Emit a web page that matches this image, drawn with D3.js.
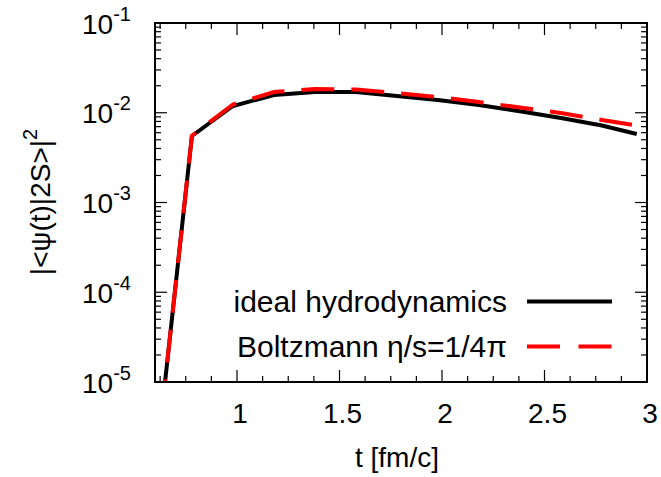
<!DOCTYPE html>
<html><head><meta charset="utf-8">
<script src="https://cdn.jsdelivr.net/npm/d3@7"></script>
<style>
html,body{margin:0;padding:0;background:#fff;}
text{font-family:"Liberation Sans",Arial,Helvetica,sans-serif;fill:#000;}
</style></head>
<body><div id="chart"></div>
<script>
const tValues = [0.58,0.78,0.98,1.18,1.38,1.58,1.78,1.98,2.18,2.38,2.58,2.78,2.95];
const idealHydro = [3.6e-7,0.00551,0.01189,0.01578,0.01703,0.01703,0.01540,0.01387,0.01220,0.01040,0.00875,0.00721,0.00580];
const boltzmann = [3.6e-7,0.00555,0.01236,0.01703,0.01841,0.01816,0.01660,0.01497,0.01317,0.01145,0.00994,0.00830,0.00721];
const xTicks = [1,1.5,2,2.5,3];
const xTickLabels = ["1","1.5","2","2.5","3"];
const yExponents = [-1,-2,-3,-4,-5];
const seriesNames = ["ideal hydrodynamics","Boltzmann η/s=1/4π"];
const xTitle = "t [fm/c]";

const W=661,H=477;
const m={left:155,top:23,right:W-647,bottom:H-382};
const svg=d3.select("#chart").append("svg").attr("width",W).attr("height",H);
const x=d3.scaleLinear().domain([0.6,3]).range([m.left,W-m.right]);
const y=d3.scaleLog().domain([1e-5,1e-1]).range([H-m.bottom,m.top]);
const x0=m.left,x1=W-m.right,y0=H-m.bottom,y1=m.top;

svg.append("clipPath").attr("id","clip").append("rect")
  .attr("x",x0).attr("y",y1).attr("width",x1-x0).attr("height",y0-y1);

const g=svg.append("g");
const xMinor=[];
for(let v=0.625;v<3;v+=0.125){ if(Math.abs(v*2-Math.round(v*2))>1e-6) xMinor.push(v); }
const tickStyle=s=>s.attr("stroke","#000").attr("stroke-width",1.2);
xMinor.forEach(v=>{
  tickStyle(g.append("line").attr("x1",x(v)).attr("x2",x(v)).attr("y1",y0).attr("y2",y0-6));
  tickStyle(g.append("line").attr("x1",x(v)).attr("x2",x(v)).attr("y1",y1).attr("y2",y1+6));
});
xTicks.forEach(v=>{
  tickStyle(g.append("line").attr("x1",x(v)).attr("x2",x(v)).attr("y1",y0).attr("y2",y0-12));
  tickStyle(g.append("line").attr("x1",x(v)).attr("x2",x(v)).attr("y1",y1).attr("y2",y1+12));
});
for(let e=-5;e<-1+1e-9;e++){
  const base=Math.pow(10,e);
  tickStyle(g.append("line").attr("x1",x0).attr("x2",x0+12).attr("y1",y(base)).attr("y2",y(base)));
  tickStyle(g.append("line").attr("x1",x1).attr("x2",x1-12).attr("y1",y(base)).attr("y2",y(base)));
  if(e<-1){
    for(let k=2;k<=9;k++){
      const v=k*base;
      tickStyle(g.append("line").attr("x1",x0).attr("x2",x0+6).attr("y1",y(v)).attr("y2",y(v)));
      tickStyle(g.append("line").attr("x1",x1).attr("x2",x1-6).attr("y1",y(v)).attr("y2",y(v)));
    }
  }
}

const line=d3.line().x((d,i)=>x(tValues[i])).y(d=>y(d));
const plot=svg.append("g").attr("clip-path","url(#clip)");
plot.append("path").attr("d",line(idealHydro)).attr("fill","none")
  .attr("stroke","#000").attr("stroke-width",4).attr("stroke-linejoin","miter");
plot.append("path").attr("d",line(boltzmann)).attr("fill","none")
  .attr("stroke","#ff0000").attr("stroke-width",4).attr("stroke-dasharray","33,17");

svg.append("rect").attr("x",x0).attr("y",y1).attr("width",x1-x0).attr("height",y0-y1)
  .attr("fill","none").attr("stroke","#000").attr("stroke-width",2);

xTicks.forEach((v,i)=>{
  svg.append("text").attr("x",x(v)+3).attr("y",423).attr("text-anchor","middle")
    .attr("font-size",28).text(xTickLabels[i]);
});
svg.append("text").attr("x",397).attr("y",467).attr("text-anchor","middle")
  .attr("font-size",28).text(xTitle);

yExponents.forEach(e=>{
  const t=svg.append("text").attr("x",131).attr("y",y(Math.pow(10,e))+10.5)
    .attr("text-anchor","end").attr("font-size",28);
  t.append("tspan").text("10");
  t.append("tspan").attr("dy",-13).attr("font-size",20).text(String(e));
});

const yt=svg.append("text").attr("transform","translate(50,202) rotate(-90)")
  .attr("text-anchor","middle").attr("font-size",28);
yt.append("tspan").text("|<ψ(t)|2S>|");
yt.append("tspan").attr("dy",-13).attr("font-size",20).text("2");

const legY=[301.5,346.5];
seriesNames.forEach((n,i)=>{
  svg.append("text").attr("x",507).attr("y",legY[i]+10.5).attr("text-anchor","end")
    .attr("font-size",30).text(n);
});
svg.append("line").attr("x1",527).attr("x2",612).attr("y1",legY[0]).attr("y2",legY[0])
  .attr("stroke","#000").attr("stroke-width",4);
svg.append("line").attr("x1",527).attr("x2",612).attr("y1",legY[1]).attr("y2",legY[1])
  .attr("stroke","#ff0000").attr("stroke-width",4).attr("stroke-dasharray","33,18.5");
</script></body></html>
